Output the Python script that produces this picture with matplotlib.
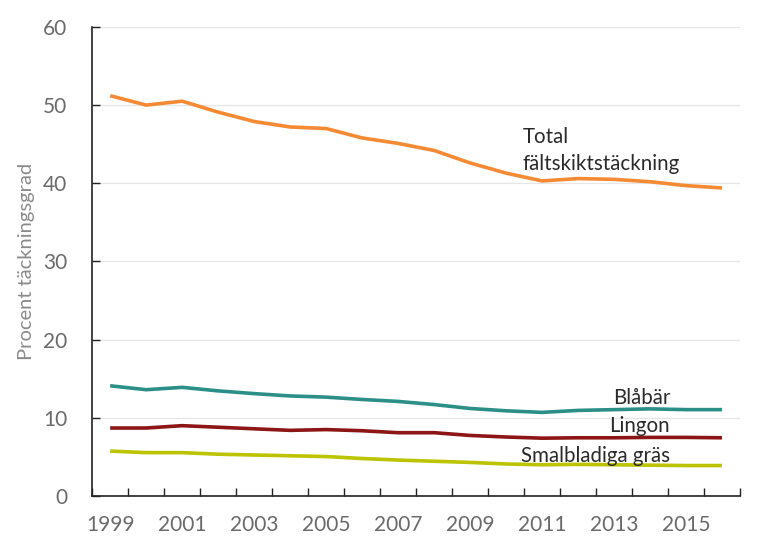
import matplotlib.pyplot as plt
import numpy as np

years = list(range(1999, 2017))
total = [51.2, 50.0, 50.5, 49.1, 47.9, 47.2, 47.0, 45.8, 45.1, 44.2,
         42.6, 41.3, 40.3, 40.6, 40.5, 40.2, 39.7, 39.4]
blabar = [14.1, 13.6, 13.9, 13.45, 13.1, 12.8, 12.65, 12.35, 12.1, 11.7,
          11.2, 10.9, 10.7, 10.95, 11.05, 11.15, 11.05, 11.05]
lingon = [8.7, 8.7, 9.0, 8.8, 8.6, 8.4, 8.5, 8.35, 8.1, 8.1,
          7.75, 7.55, 7.4, 7.45, 7.45, 7.5, 7.5, 7.45]
smal = [5.75, 5.55, 5.55, 5.35, 5.25, 5.15, 5.05, 4.8, 4.6, 4.45,
        4.3, 4.1, 4.0, 4.05, 4.0, 3.95, 3.9, 3.9]

series = [
    ("Total\nfältskiktstäckning", total, '#f58a35'),
    ("Blåbär", blabar, '#2b8f88'),
    ("Lingon", lingon, '#8c1515'),
    ("Smalbladiga gräs", smal, '#bcc300'),
]

plt.rcParams['font.family'] = ['Lato', 'DejaVu Sans']

fig = plt.figure(figsize=(7.68, 5.38), dpi=100)
ax = fig.add_axes([0.12, 0.078, 0.8435, 0.872])

x = np.arange(len(years))
for name, vals, col in series:
    ax.plot(x, vals, color=col, lw=2.6, solid_capstyle='butt', zorder=3)

# labels next to the lines
txt = dict(fontsize=14.8, color='#2a2a2a')
ax.text(11.47, 45.2, "Total", ha='left', **txt)
ax.text(11.47, 41.7, "fältskiktstäckning", ha='left', **txt)
ax.text(15.56, 11.73, "Blåbär", ha='right', **txt)
ax.text(15.56, 8.15, "Lingon", ha='right', **txt)
ax.text(15.56, 4.39, "Smalbladiga gräs", ha='right', **txt)

ax.set_xlim(-0.5, len(years) - 0.5)
ax.set_ylim(0, 60)
ax.set_yticks(range(0, 61, 10))
ax.yaxis.grid(True, color='#e6e6e6', lw=1)
ax.set_axisbelow(True)

# category axis: ticks between years, labels every other year
ax.set_xticks(x[::2])
ax.set_xticklabels([str(y) for y in years[::2]])
ax.set_xticks(np.arange(-0.5, len(years)), minor=True)
ax.tick_params(axis='x', which='major', length=0, pad=14,
               labelsize=15, labelcolor='#6a6a6a')
ax.tick_params(axis='x', which='minor', direction='in', length=6, width=1, color='#222222')
ax.tick_params(axis='y', direction='in', length=6, width=1, color='#222222', pad=18,
               labelsize=15, labelcolor='#6a6a6a')

for s in ['top', 'right']:
    ax.spines[s].set_visible(False)
for s in ['left', 'bottom']:
    ax.spines[s].set_color('#222222')
    ax.spines[s].set_linewidth(1.2)

ax.set_ylabel("Procent täckningsgrad", fontsize=14.5, color='#8a8a8a', labelpad=6)

fig.savefig('out.png', dpi=100)
